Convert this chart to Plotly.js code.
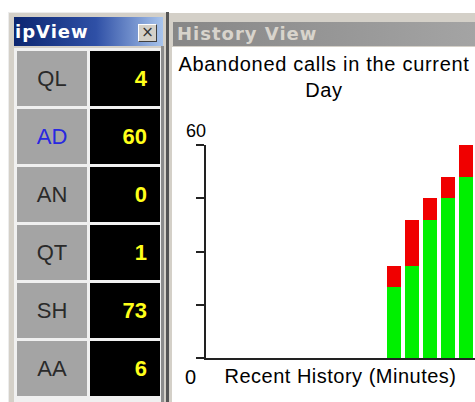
<!DOCTYPE html>
<html>
<head>
<meta charset="utf-8">
<script src="https://cdn.plot.ly/plotly-3.0.1.min.js"></script>
<style>
html,body{margin:0;padding:0;width:475px;height:402px;overflow:hidden;background:#fff;}
#stage{position:relative;width:475px;height:402px;overflow:hidden;}
.abs{position:absolute;box-sizing:border-box;}
.lbl{font-family:"Liberation Sans",Arial,sans-serif;font-size:22px;color:#2a2a2a;text-align:center;line-height:55px;}
.val{font-family:"Liberation Sans",Arial,sans-serif;font-weight:bold;font-size:22px;color:#ffff1a;text-align:right;line-height:55px;padding-right:13px;}
.ttl{font-family:"DejaVu Sans",Verdana,sans-serif;font-weight:bold;font-size:18px;letter-spacing:1px;white-space:nowrap;}
#chart{position:absolute;left:0;top:0;width:475px;height:402px;z-index:5;}
#chart .gtitle{letter-spacing:0.7px;}
#chart .xtitle{letter-spacing:0.5px;}
</style>
</head>
<body>
<div id="stage">
  <!-- ipView window -->
  <div class="abs" style="left:8px;top:12px;width:159px;height:390px;background:#d4d0c8;border-top:1px solid #ececec;border-left:1px solid #ececec;"></div>
  <div class="abs" style="left:14px;top:17px;width:149px;height:29px;background:linear-gradient(90deg,#0c2670 0%,#2f50a6 55%,#a8c4ec 100%);"></div>
  <div class="abs ttl" style="left:15px;top:17px;height:29px;line-height:29px;color:#fff;">ipView</div>
  <div class="abs" style="left:138px;top:24px;width:19px;height:18px;background:#d4d0c8;border-top:1px solid #fff;border-left:1px solid #fff;border-right:1px solid #404040;border-bottom:1px solid #404040;font-family:'DejaVu Sans',sans-serif;font-size:15px;line-height:15px;text-align:center;color:#333;">×</div>
  <div class="abs" style="left:14px;top:48px;width:149px;height:354px;background:#f0f0f0;"></div>
  <div id="cells"></div>
  <div class="abs" style="left:161px;top:46px;width:3px;height:356px;background:#8c8c8c;"></div>

  <!-- History View window -->
  <div class="abs" style="left:166px;top:12px;width:3px;height:390px;background:#555;"></div>
  <div class="abs" style="left:169px;top:13px;width:306px;height:389px;background:#d4d0c8;"></div>
  <div class="abs" style="left:173px;top:22px;width:302px;height:24px;background:linear-gradient(90deg,#878787 0%,#a4a4a4 100%);"></div>
  <div class="abs ttl" style="left:177px;top:22px;height:24px;line-height:24px;color:#d8d4cc;">History View</div>
  <div class="abs" style="left:172px;top:47px;width:303px;height:355px;background:#fff;"></div>

  <div id="chart"></div>
</div>
<script>
// ipView counters
const statLabels = ['QL', 'AD', 'AN', 'QT', 'SH', 'AA'];
const statValues = [4, 60, 0, 1, 73, 6];

// History chart data
const minutes = [1, 2, 3, 4, 5, 6, 7, 8, 9, 10, 11, 12, 13, 14, 15];
const earlierAbandoned = [0, 0, 0, 0, 0, 0, 0, 0, 0, 0, 20, 26, 39, 45, 51];
const newAbandoned     = [0, 0, 0, 0, 0, 0, 0, 0, 0, 0, 6, 13, 6, 6, 9];
const yTicks = [0, 15, 30, 45, 60];
const chartTitle = 'Abandoned calls in the current<br>Day';
const xTitle = 'Recent History (Minutes)';

// build ipView cells
const cells = document.getElementById('cells');
statLabels.forEach(function (lab, i) {
  const top = 51 + 58 * i;
  const g = document.createElement('div');
  g.className = 'abs lbl';
  g.style.cssText += 'left:17px;top:' + top + 'px;width:70px;height:55px;background:#a4a4a4;';
  if (lab === 'AD') g.style.color = '#2828e0';
  g.textContent = lab;
  cells.appendChild(g);
  const b = document.createElement('div');
  b.className = 'abs val';
  b.style.cssText += 'left:90px;top:' + top + 'px;width:70px;height:55px;background:#000;';
  b.textContent = String(statValues[i]);
  cells.appendChild(b);
});

const font = {family: 'Liberation Sans, Arial, sans-serif', color: '#000'};

const traces = [
  {type: 'bar', x: minutes, y: earlierAbandoned, name: 'Earlier',
   marker: {color: '#00f000', line: {width: 0}}, hoverinfo: 'skip'},
  {type: 'bar', x: minutes, y: newAbandoned, name: 'This minute',
   marker: {color: '#f00000', line: {width: 0}}, hoverinfo: 'skip'}
];

const layout = {
  width: 475, height: 402,
  margin: {l: 206, r: 0, t: 145, b: 44, pad: 0},
  paper_bgcolor: 'rgba(0,0,0,0)',
  plot_bgcolor: 'rgba(0,0,0,0)',
  barmode: 'stack',
  bargap: 0.22,
  showlegend: false,
  title: {
    text: chartTitle,
    font: Object.assign({size: 20}, font),
    xref: 'container', x: 324 / 475, xanchor: 'center',
    yref: 'container', y: 1 - 71 / 402, yanchor: 'top'
  },
  xaxis: {
    range: [0.5, 15.5], showgrid: false, zeroline: false,
    showline: true, linecolor: '#222', linewidth: 2,
    showticklabels: false, ticks: '', fixedrange: true,
    title: {text: xTitle, font: Object.assign({size: 20}, font), standoff: 10}
  },
  yaxis: {
    range: [0, 60], tickvals: yTicks, ticks: 'outside', ticklen: 8,
    tickwidth: 2, tickcolor: '#222', showline: true, linewidth: 2,
    linecolor: '#222', showgrid: false, zeroline: false,
    showticklabels: false, fixedrange: true
  },
  annotations: [
    {text: String(yTicks[yTicks.length - 1]), xref: 'paper', yref: 'y', x: 0, y: yTicks[yTicks.length - 1],
     xanchor: 'right', yanchor: 'bottom', showarrow: false, xshift: 2, yshift: 2,
     font: Object.assign({size: 18}, font)},
    {text: String(yTicks[0]), xref: 'paper', yref: 'paper', x: -16 / 269, y: 0,
     xanchor: 'center', yanchor: 'top', showarrow: false, yshift: -6,
     font: Object.assign({size: 20}, font)}
  ]
};

Plotly.newPlot('chart', traces, layout, {staticPlot: true, displayModeBar: false});
</script>
</body>
</html>
